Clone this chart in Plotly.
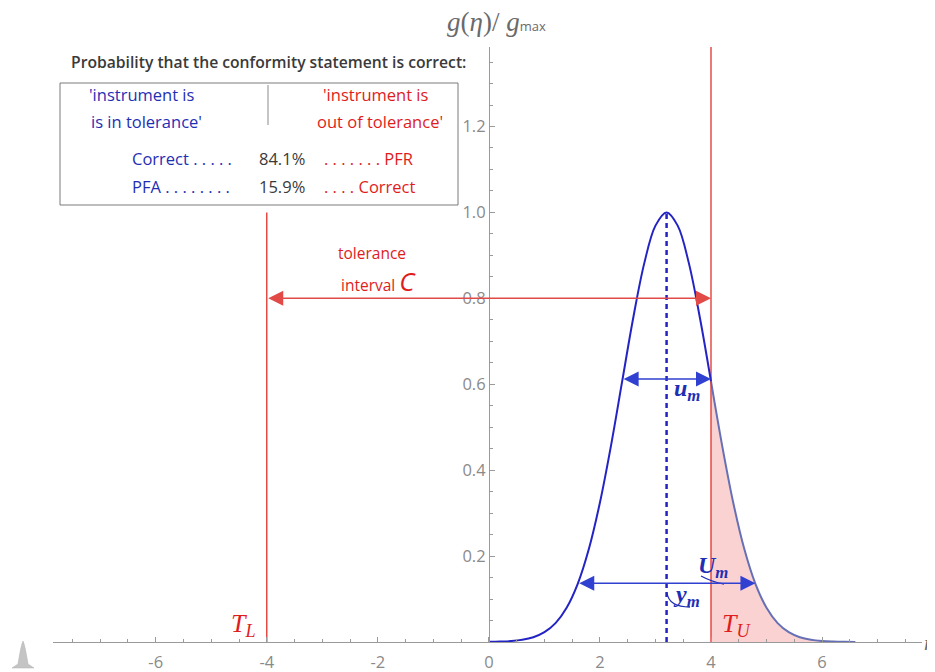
import plotly.graph_objects as go

# ---------------- data ----------------
curve_x = [0.0, 0.2, 0.4, 0.6, 0.8, 1.0, 1.2, 1.4, 1.6, 1.8, 2.0, 2.2, 2.4, 2.6, 2.8, 3.0,
           3.2, 3.4, 3.6, 3.8, 4.0, 4.2, 4.4, 4.6, 4.8, 5.0, 5.2, 5.4, 5.6, 5.8, 6.0, 6.2, 6.4, 6.6]
curve_y = [0.0003, 0.0009, 0.0022, 0.0051, 0.0111, 0.0228, 0.0439, 0.0796, 0.1353, 0.2163,
           0.3247, 0.4578, 0.6065, 0.7548, 0.8825, 0.9692, 1.0, 0.9692, 0.8825, 0.7548,
           0.6065, 0.4578, 0.3247, 0.2163, 0.1353, 0.0796, 0.0439, 0.0228, 0.0111, 0.0051,
           0.0022, 0.0009, 0.0003, 0.0001]

mean_value = 3.2
peak_value = 1.0
tol_lower = -4.0
tol_upper = 4.0
tol_arrow_y = 0.8
u_arrow_x = [2.4, 4.0]
u_arrow_y = 0.612
U_arrow_x = [1.6, 4.8]
U_arrow_y = 0.137

prob_correct = "84.1%"
prob_pfa = "15.9%"

xtick_vals = [-6, -4, -2, 0, 2, 4, 6]
xtick_text = ["-6", "-4", "-2", "0", "2", "4", "6"]
ytick_vals = [0.2, 0.4, 0.6, 0.8, 1.0, 1.2]
ytick_text = ["0.2", "0.4", "0.6", "0.8", "1.0", "1.2"]

# ---------------- layout geometry ----------------
OFF = 8                      # page body margin in the browser
W, H = 927, 664
ML, MR, MT, MB = 45, 13, 39, 30
XMIN, XMAX = -7.85, 7.8
YMIN, YMAX = 0.0, 1.385
PXU = (W - ML - MR) / (XMAX - XMIN)
PYU = (H - MT - MB) / (YMAX - YMIN)


def X(px):
    return XMIN + (px - OFF - ML) / PXU


def Y(py):
    return YMIN + (H - MB - (py - OFF)) / PYU


def PX(px):
    return (px - OFF - ML) / (W - ML - MR)


def PY(py):
    return (H - MB - (py - OFF)) / (H - MT - MB)


BLUE = "#2424c4"
BLUE_T = "#1f2fb4"
BLUE_ARROW = "#3040d0"
RED = "#e2302a"
RED_T = "#e01c1c"
GRAY = "#8a8a8a"
AXIS = "#9a9a9a"

left_x = [x for x in curve_x if x <= tol_upper]
left_y = curve_y[:len(left_x)]
right_x = [x for x in curve_x if x >= tol_upper]
right_y = curve_y[len(curve_x) - len(right_x):]

fig = go.Figure()

fig.add_trace(go.Scatter(x=right_x, y=right_y, mode="lines", line=dict(color="#6670b4", width=2, shape="spline"),
                         fill="tozeroy", fillcolor="#fbd2d2", hoverinfo="skip", showlegend=False))
fig.add_trace(go.Scatter(x=[tol_lower, tol_lower], y=[0, peak_value], mode="lines",
                         line=dict(color=RED, width=1.3), showlegend=False, hoverinfo="skip"))
fig.add_trace(go.Scatter(x=[tol_upper, tol_upper], y=[0, YMAX], mode="lines",
                         line=dict(color=RED, width=1.3), showlegend=False, hoverinfo="skip"))
fig.add_trace(go.Scatter(x=left_x, y=left_y, mode="lines", line=dict(color=BLUE, width=2, shape="spline"),
                         showlegend=False, hoverinfo="skip"))
fig.add_trace(go.Scatter(x=[mean_value, mean_value], y=[0, peak_value], mode="lines",
                         line=dict(color=BLUE, width=2.5, dash="5px,4px"), showlegend=False, hoverinfo="skip"))

ann = []


def darrow(x0, x1, y, color, width):
    ann.append(dict(x=x1, y=y, ax=x0, ay=y, xref="x", yref="y", axref="x", ayref="y",
                    text="", showarrow=True, arrowside="end+start", arrowhead=2,
                    arrowsize=2.0, arrowwidth=width, arrowcolor=color, standoff=0, startstandoff=0))


darrow(tol_lower, tol_upper, tol_arrow_y, "#e24a48", 1.5)
darrow(u_arrow_x[0], u_arrow_x[1], u_arrow_y, BLUE_ARROW, 1.5)
darrow(U_arrow_x[0], U_arrow_x[1], U_arrow_y, BLUE_ARROW, 1.5)


def txt(px, py, s, color, size=16, family="Open Sans", xanchor="left", weight=None):
    f = dict(family=family, size=size, color=color)
    if weight:
        f["weight"] = weight
    ann.append(dict(x=X(px), y=Y(py), xref="x", yref="y", text=s, showarrow=False,
                    xanchor=xanchor, yanchor="middle", font=f))


SERIF = "Liberation Serif"
txt(687, 390, "<b><i>u</i></b><sub><b><i>m</i></b></sub>", BLUE_T, 24, SERIF, "center")
txt(713, 567, "<b><i>U</i></b><sub><b><i>m</i></b></sub>", BLUE_T, 24, SERIF, "center")
txt(686, 596, "<b><i>y</i></b><sub><b><i>m</i></b></sub>", BLUE_T, 24, SERIF, "center")
txt(243, 625, "<i>T</i><sub><i>L</i></sub>", RED_T, 26, SERIF, "center")
txt(736, 625, "<i>T</i><sub><i>U</i></sub>", RED_T, 26, SERIF, "center")
txt(372, 253, "tolerance", RED_T, 15.5, "Open Sans", "center")
txt(378, 281, "interval <i><span style='font-size:26px'>C</span></i>", RED_T, 15.5, "Open Sans", "center")

# info box
txt(69, 62, "Probability that the conformity statement is correct:", "#3a3a3a", 15.7, "Open Sans", "left", 600)
txt(87, 94, "'instrument is", BLUE_T, 16.5)
txt(89, 121, "is in tolerance'", BLUE_T, 16.5)
txt(431, 94, "'instrument is", RED_T, 16.5, xanchor="right")
txt(445, 121, "out of tolerance'", RED_T, 16.5, xanchor="right")
txt(130, 158, "Correct . . . . .", BLUE_T, 16.5)
txt(257, 158, prob_correct, "#3a3a3a", 16.5)
txt(322, 158, ". . . . . . . PFR", RED_T, 16.5)
txt(130, 186, "PFA . . . . . . . .", BLUE_T, 16.5)
txt(257, 186, prob_pfa, "#3a3a3a", 16.5)
txt(322, 186, ". . . . Correct", RED_T, 16.5)

# axis labels
ann.append(dict(x=PX(496), y=PY(22), xref="paper", yref="paper", showarrow=False,
                text="<i>g</i>(<i>η</i>)/ <i>g</i><span style='font-family:Open Sans;font-size:13px'>max</span>",
                font=dict(family=SERIF, size=27, color="#6a6a6a"), xanchor="center", yanchor="middle"))
ann.append(dict(x=1, y=0, xref="paper", yref="paper", xshift=0, showarrow=False, text="<i>η</i>",
                font=dict(family=SERIF, size=22, color="#6a6a6a"), xanchor="left", yanchor="middle"))

shapes = [
    dict(type="rect", xref="x", yref="y", x0=X(60), x1=X(458), y0=Y(205), y1=Y(83),
         line=dict(color="#7a7a7a", width=1), fillcolor="white", layer="above"),
    dict(type="line", xref="x", yref="y", x0=X(268), x1=X(268), y0=Y(85), y1=Y(125),
         line=dict(color="#8a8a8a", width=1), layer="above"),
    dict(type="path", xref="x", yref="y",
         path=f"M {X(701)},{Y(576)} Q {X(712)},{Y(582)} {X(724)},{Y(584)}",
         line=dict(color=BLUE_T, width=1.3)),
    dict(type="path", xref="x", yref="y",
         path=f"M {X(667)},{Y(593)} Q {X(669)},{Y(607)} {X(690)},{Y(607)}",
         line=dict(color=BLUE_T, width=1.3)),
    dict(type="path", xref="paper", yref="paper",
         path=(f"M {PX(12)},{PY(668)} L {PX(18)},{PY(664)} Q {PX(21)},{PY(645)} {PX(23)},{PY(641)} "
               f"Q {PX(25)},{PY(645)} {PX(28)},{PY(664)} L {PX(34)},{PY(668)} Z"),
         fillcolor="#c4c4c4", line=dict(color="#b0b0b0", width=0.5)),
]

fig.update_layout(
    width=W, height=H, margin=dict(l=ML, r=MR, t=MT, b=MB, autoexpand=False),
    plot_bgcolor="white", paper_bgcolor="white", showlegend=False,
    annotations=ann, shapes=shapes,
    xaxis=dict(range=[XMIN, XMAX], showgrid=False, zeroline=False, showline=True, linecolor=AXIS, linewidth=1,
               tickmode="array", tickvals=xtick_vals, ticktext=xtick_text, ticks="inside", ticklen=5,
               tickcolor=AXIS, tickfont=dict(family="Open Sans", size=16.5, color=GRAY), ticklabelstandoff=5,
               minor=dict(tickmode="linear", tick0=0, dtick=0.5, ticks="inside", ticklen=3, tickcolor=AXIS),
               automargin=False, fixedrange=True),
    yaxis=dict(range=[YMIN, YMAX], showgrid=False, zeroline=False, showline=True, linecolor=AXIS, linewidth=1,
               anchor="free", position=(0 - XMIN) / (XMAX - XMIN),
               tickmode="array", tickvals=ytick_vals, ticktext=ytick_text, ticks="inside", ticklen=5,
               tickcolor=AXIS, tickfont=dict(family="Open Sans", size=16.5, color=GRAY),
               minor=dict(tickmode="linear", tick0=0, dtick=0.05, ticks="inside", ticklen=3, tickcolor=AXIS),
               automargin=False, fixedrange=True),
)

fig.write_html("out.html")
